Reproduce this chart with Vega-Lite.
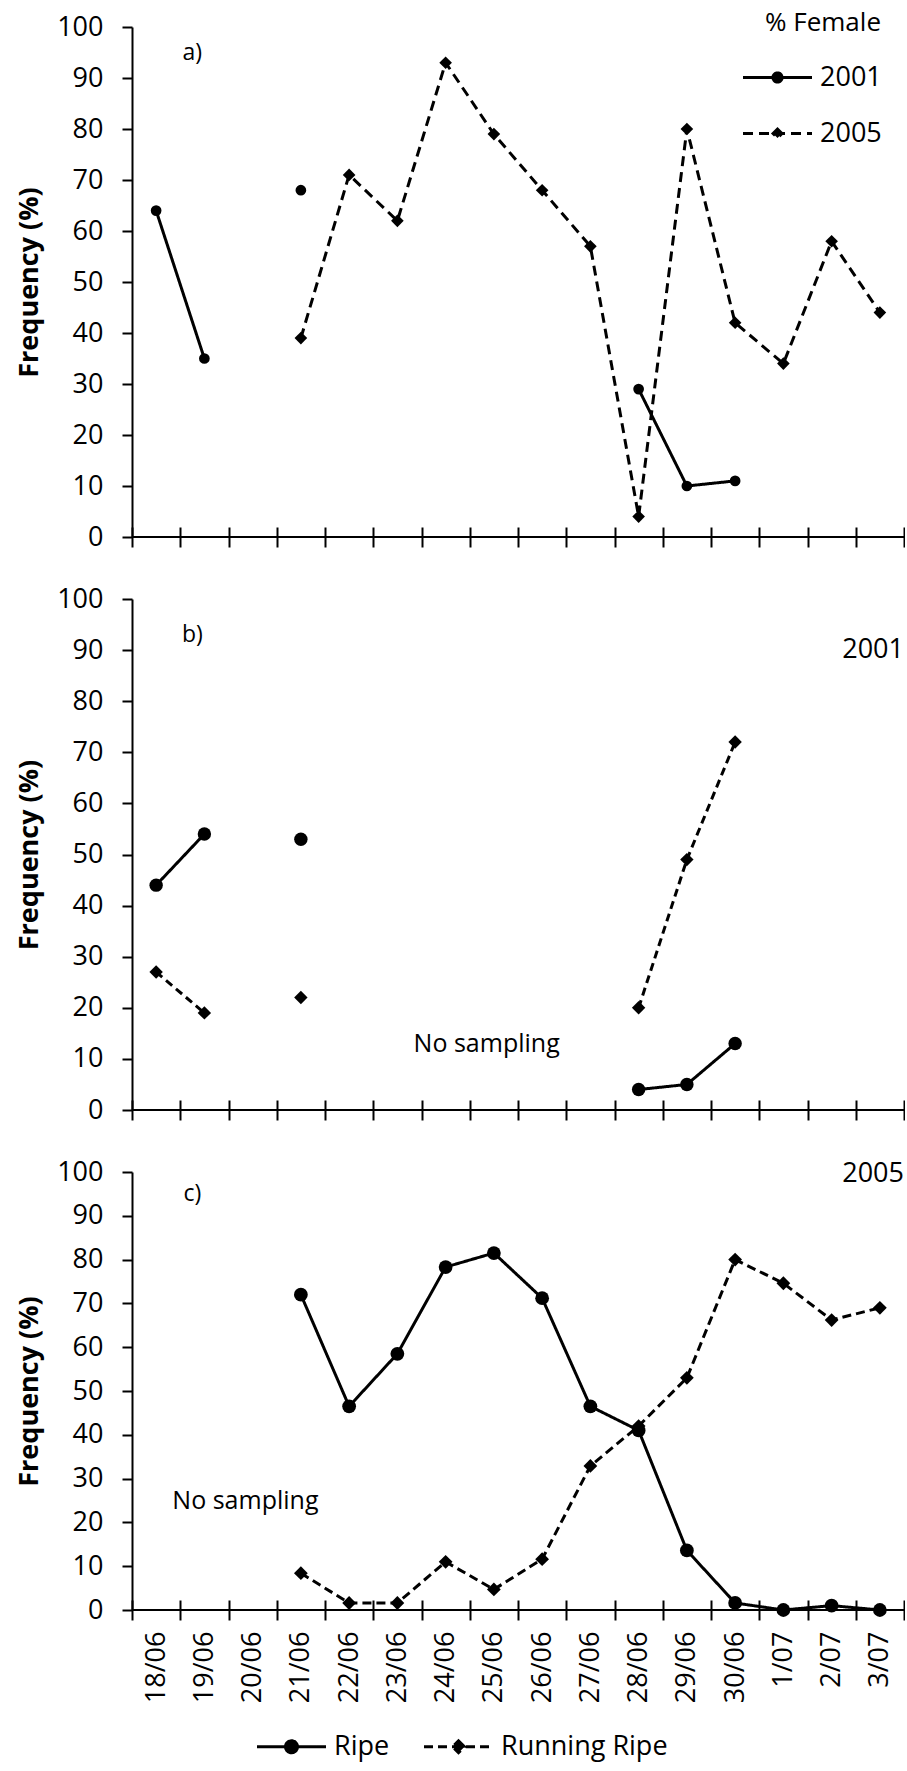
{
  "$schema": "https://vega.github.io/schema/vega-lite/v6.json",
  "padding": {"left": 15, "top": 10, "right": 0, "bottom": 8},
  "background": "white",
  "config": {
    "view": {"stroke": null},
    "font": "Open Sans",
    "axis": {
      "labelFont": "Open Sans", "labelFontSize": 27, "labelColor": "black",
      "domainColor": "black", "domainWidth": 2, "tickColor": "black", "tickWidth": 2,
      "grid": false, "titleColor": "black", "titleFont": "Open Sans"
    },
    "legend": {
      "labelFont": "Open Sans", "labelFontSize": 27, "labelColor": "black", "labelLimit": 0,
      "titleFont": "Open Sans", "titleFontSize": 26, "titleFontWeight": "normal", "titleColor": "black",
      "padding": 0
    }
  },
  "datasets": {
    "pts": [
      {"panel": "a", "series": "2001", "date": "18/06", "value": 64},
      {"panel": "a", "series": "2001", "date": "19/06", "value": 35},
      {"panel": "a", "series": "2001", "date": "20/06", "value": null},
      {"panel": "a", "series": "2001", "date": "21/06", "value": 68},
      {"panel": "a", "series": "2001", "date": "22/06", "value": null},
      {"panel": "a", "series": "2001", "date": "28/06", "value": 29},
      {"panel": "a", "series": "2001", "date": "29/06", "value": 10},
      {"panel": "a", "series": "2001", "date": "30/06", "value": 11},
      {"panel": "a", "series": "2005", "date": "21/06", "value": 39},
      {"panel": "a", "series": "2005", "date": "22/06", "value": 71},
      {"panel": "a", "series": "2005", "date": "23/06", "value": 62},
      {"panel": "a", "series": "2005", "date": "24/06", "value": 93},
      {"panel": "a", "series": "2005", "date": "25/06", "value": 79},
      {"panel": "a", "series": "2005", "date": "26/06", "value": 68},
      {"panel": "a", "series": "2005", "date": "27/06", "value": 57},
      {"panel": "a", "series": "2005", "date": "28/06", "value": 4},
      {"panel": "a", "series": "2005", "date": "29/06", "value": 80},
      {"panel": "a", "series": "2005", "date": "30/06", "value": 42},
      {"panel": "a", "series": "2005", "date": "1/07", "value": 34},
      {"panel": "a", "series": "2005", "date": "2/07", "value": 58},
      {"panel": "a", "series": "2005", "date": "3/07", "value": 44},
      {"panel": "b", "series": "Ripe", "date": "18/06", "value": 44},
      {"panel": "b", "series": "Ripe", "date": "19/06", "value": 54},
      {"panel": "b", "series": "Ripe", "date": "20/06", "value": null},
      {"panel": "b", "series": "Ripe", "date": "21/06", "value": 53},
      {"panel": "b", "series": "Ripe", "date": "22/06", "value": null},
      {"panel": "b", "series": "Ripe", "date": "28/06", "value": 4},
      {"panel": "b", "series": "Ripe", "date": "29/06", "value": 5},
      {"panel": "b", "series": "Ripe", "date": "30/06", "value": 13},
      {"panel": "b", "series": "Running Ripe", "date": "18/06", "value": 27},
      {"panel": "b", "series": "Running Ripe", "date": "19/06", "value": 19},
      {"panel": "b", "series": "Running Ripe", "date": "20/06", "value": null},
      {"panel": "b", "series": "Running Ripe", "date": "21/06", "value": 22},
      {"panel": "b", "series": "Running Ripe", "date": "22/06", "value": null},
      {"panel": "b", "series": "Running Ripe", "date": "28/06", "value": 20},
      {"panel": "b", "series": "Running Ripe", "date": "29/06", "value": 49},
      {"panel": "b", "series": "Running Ripe", "date": "30/06", "value": 72},
      {"panel": "c", "series": "Ripe", "date": "21/06", "value": 72},
      {"panel": "c", "series": "Ripe", "date": "22/06", "value": 46.5},
      {"panel": "c", "series": "Ripe", "date": "23/06", "value": 58.5},
      {"panel": "c", "series": "Ripe", "date": "24/06", "value": 78.3},
      {"panel": "c", "series": "Ripe", "date": "25/06", "value": 81.5},
      {"panel": "c", "series": "Ripe", "date": "26/06", "value": 71.2},
      {"panel": "c", "series": "Ripe", "date": "27/06", "value": 46.5},
      {"panel": "c", "series": "Ripe", "date": "28/06", "value": 41},
      {"panel": "c", "series": "Ripe", "date": "29/06", "value": 13.6},
      {"panel": "c", "series": "Ripe", "date": "30/06", "value": 1.6},
      {"panel": "c", "series": "Ripe", "date": "1/07", "value": 0},
      {"panel": "c", "series": "Ripe", "date": "2/07", "value": 1},
      {"panel": "c", "series": "Ripe", "date": "3/07", "value": 0},
      {"panel": "c", "series": "Running Ripe", "date": "21/06", "value": 8.4},
      {"panel": "c", "series": "Running Ripe", "date": "22/06", "value": 1.6},
      {"panel": "c", "series": "Running Ripe", "date": "23/06", "value": 1.6},
      {"panel": "c", "series": "Running Ripe", "date": "24/06", "value": 11},
      {"panel": "c", "series": "Running Ripe", "date": "25/06", "value": 4.7},
      {"panel": "c", "series": "Running Ripe", "date": "26/06", "value": 11.6},
      {"panel": "c", "series": "Running Ripe", "date": "27/06", "value": 32.9},
      {"panel": "c", "series": "Running Ripe", "date": "28/06", "value": 42},
      {"panel": "c", "series": "Running Ripe", "date": "29/06", "value": 53},
      {"panel": "c", "series": "Running Ripe", "date": "30/06", "value": 80},
      {"panel": "c", "series": "Running Ripe", "date": "1/07", "value": 74.6},
      {"panel": "c", "series": "Running Ripe", "date": "2/07", "value": 66.2},
      {"panel": "c", "series": "Running Ripe", "date": "3/07", "value": 69}
    ],
    "notes": [
      {"panel": "a", "kind": "tag", "date": "19/06", "value": 95, "text": "a)"},
      {"panel": "b", "kind": "tag", "date": "19/06", "value": 93, "text": "b)"},
      {"panel": "b", "kind": "year", "date": "3/07", "value": 90, "text": "2001"},
      {"panel": "b", "kind": "gap", "date": "25/06", "value": 13, "text": "No sampling"},
      {"panel": "c", "kind": "tag", "date": "19/06", "value": 95, "text": "c)"},
      {"panel": "c", "kind": "year", "date": "3/07", "value": 99.5, "text": "2005"},
      {"panel": "c", "kind": "gap", "date": "20/06", "value": 25, "text": "No sampling"}
    ]
  },
  "spacing": 62,
  "bounds": "flush",
  "resolve": {
    "scale": {"x": "independent", "y": "independent", "strokeDash": "independent"},
    "legend": {"strokeDash": "independent"}
  },
  "vconcat": [
    {
      "width": 772, "height": 510,
      "layer": [
        {
          "data": {"name": "pts"},
          "transform": [{"filter": "datum.panel === 'a'"}],
          "mark": {"type": "line", "color": "black", "strokeWidth": 3},
          "encoding": {
            "x": {"field": "date", "type": "ordinal",
              "sort": ["18/06","19/06","20/06","21/06","22/06","23/06","24/06","25/06","26/06","27/06","28/06","29/06","30/06","1/07","2/07","3/07"],
              "scale": {"type": "band", "paddingInner": 0, "paddingOuter": 0, "domain": ["18/06","19/06","20/06","21/06","22/06","23/06","24/06","25/06","26/06","27/06","28/06","29/06","30/06","1/07","2/07","3/07"]},
              "bandPosition": 0.5,
              "axis": {"title": null, "labels": false, "domain": false, "ticks": true, "tickBand": "extent", "tickSize": 20, "offset": -10}},
            "y": {"field": "value", "type": "quantitative", "scale": {"domain": [0, 100], "nice": false},
              "axis": {"title": "Frequency (%)", "values": [0,10,20,30,40,50,60,70,80,90,100], "tickSize": 10, "labelPadding": 19, "titleFontSize": 27, "titleFontWeight": "bold", "titlePadding": 13}},
            "strokeDash": {"field": "series", "type": "nominal",
              "scale": {"domain": ["2001", "2005"], "range": [[1, 0], [10, 6]]},
              "legend": {
                "orient": "none", "legendX": 632, "legendY": -17, "title": "% Female", "titleAnchor": "middle", "titlePadding": 28,
                "labelOffset": 29, "symbolSize": 576, "symbolStrokeWidth": 3, "rowPadding": 28,
                "symbolFillColor": "black", "symbolStrokeColor": "black", "symbolOpacity": 1,
                "symbolType": {"expr": "datum.value === '2001' ? 'M-2.875,0H2.875M0.38,0A0.38,0.38,0,1,1,-0.38,0A0.38,0.38,0,1,1,0.38,0Z' : 'M-2.875,0H2.875M0,-0.37L0.37,0L0,0.37L-0.37,0Z'"}
              }}
          }
        },
        {
          "data": {"name": "pts"},
          "transform": [{"filter": "datum.panel === 'a' && datum.series === '2001' && datum.value != null"}],
          "mark": {"type": "point", "filled": true, "color": "black", "opacity": 1, "shape": "circle", "size": 115},
          "encoding": {
            "x": {"field": "date", "type": "ordinal", "bandPosition": 0.5},
            "y": {"field": "value", "type": "quantitative"}
          }
        },
        {
          "data": {"name": "pts"},
          "transform": [{"filter": "datum.panel === 'a' && datum.series === '2005' && datum.value != null"}],
          "mark": {"type": "point", "filled": true, "color": "black", "opacity": 1, "shape": "diamond", "size": 160},
          "encoding": {
            "x": {"field": "date", "type": "ordinal", "bandPosition": 0.5},
            "y": {"field": "value", "type": "quantitative"}
          }
        },
        {
          "data": {"values": [{}]},
          "mark": {"type": "rule", "color": "black", "strokeWidth": 2},
          "encoding": {"y": {"datum": 0, "type": "quantitative"}}
        },
        {
          "data": {"name": "notes"},
          "transform": [{"filter": "datum.panel === 'a' && datum.kind === 'tag'"}],
          "mark": {"type": "text", "fontSize": 23, "color": "black", "align": "center", "baseline": "middle"},
          "encoding": {
            "x": {"field": "date", "type": "ordinal", "bandPosition": 0.25},
            "y": {"field": "value", "type": "quantitative"},
            "text": {"field": "text"}
          }
        }
      ]
    },
    {
      "width": 772, "height": 511,
      "layer": [
        {
          "data": {"name": "pts"},
          "transform": [{"filter": "datum.panel === 'b'"}],
          "mark": {"type": "line", "color": "black", "strokeWidth": 3},
          "encoding": {
            "x": {"field": "date", "type": "ordinal",
              "sort": ["18/06","19/06","20/06","21/06","22/06","23/06","24/06","25/06","26/06","27/06","28/06","29/06","30/06","1/07","2/07","3/07"],
              "scale": {"type": "band", "paddingInner": 0, "paddingOuter": 0, "domain": ["18/06","19/06","20/06","21/06","22/06","23/06","24/06","25/06","26/06","27/06","28/06","29/06","30/06","1/07","2/07","3/07"]},
              "bandPosition": 0.5,
              "axis": {"title": null, "labels": false, "domain": false, "ticks": true, "tickBand": "extent", "tickSize": 20, "offset": -10}},
            "y": {"field": "value", "type": "quantitative", "scale": {"domain": [0, 100], "nice": false},
              "axis": {"title": "Frequency (%)", "values": [0,10,20,30,40,50,60,70,80,90,100], "tickSize": 10, "labelPadding": 19, "titleFontSize": 27, "titleFontWeight": "bold", "titlePadding": 13}},
            "strokeDash": {"field": "series", "type": "nominal",
              "scale": {"domain": ["Ripe", "Running Ripe"], "range": [[1, 0], [8, 5]]}, "legend": null}
          }
        },
        {
          "data": {"name": "pts"},
          "transform": [{"filter": "datum.panel === 'b' && datum.series === 'Ripe' && datum.value != null"}],
          "mark": {"type": "point", "filled": true, "color": "black", "opacity": 1, "shape": "circle", "size": 180},
          "encoding": {
            "x": {"field": "date", "type": "ordinal", "bandPosition": 0.5},
            "y": {"field": "value", "type": "quantitative"}
          }
        },
        {
          "data": {"name": "pts"},
          "transform": [{"filter": "datum.panel === 'b' && datum.series === 'Running Ripe' && datum.value != null"}],
          "mark": {"type": "point", "filled": true, "color": "black", "opacity": 1, "shape": "diamond", "size": 180},
          "encoding": {
            "x": {"field": "date", "type": "ordinal", "bandPosition": 0.5},
            "y": {"field": "value", "type": "quantitative"}
          }
        },
        {
          "data": {"values": [{}]},
          "mark": {"type": "rule", "color": "black", "strokeWidth": 2},
          "encoding": {"y": {"datum": 0, "type": "quantitative"}}
        },
        {
          "data": {"name": "notes"},
          "transform": [{"filter": "datum.panel === 'b' && datum.kind === 'tag'"}],
          "mark": {"type": "text", "fontSize": 23, "color": "black", "align": "center", "baseline": "middle"},
          "encoding": {
            "x": {"field": "date", "type": "ordinal", "bandPosition": 0.25},
            "y": {"field": "value", "type": "quantitative"},
            "text": {"field": "text"}
          }
        },
        {
          "data": {"name": "notes"},
          "transform": [{"filter": "datum.panel === 'b' && datum.kind === 'year'"}],
          "mark": {"type": "text", "fontSize": 27, "color": "black", "align": "right", "baseline": "middle"},
          "encoding": {
            "x": {"field": "date", "type": "ordinal", "bandPosition": 1},
            "y": {"field": "value", "type": "quantitative"},
            "text": {"field": "text"}
          }
        },
        {
          "data": {"name": "notes"},
          "transform": [{"filter": "datum.panel === 'b' && datum.kind === 'gap'"}],
          "mark": {"type": "text", "fontSize": 25, "color": "black", "align": "center", "baseline": "middle"},
          "encoding": {
            "x": {"field": "date", "type": "ordinal", "bandPosition": 0.35},
            "y": {"field": "value", "type": "quantitative"},
            "text": {"field": "text"}
          }
        }
      ]
    },
    {
      "width": 772, "height": 438,
      "layer": [
        {
          "data": {"name": "pts"},
          "transform": [{"filter": "datum.panel === 'c'"}],
          "mark": {"type": "line", "color": "black", "strokeWidth": 3},
          "encoding": {
            "x": {"field": "date", "type": "ordinal",
              "sort": ["18/06","19/06","20/06","21/06","22/06","23/06","24/06","25/06","26/06","27/06","28/06","29/06","30/06","1/07","2/07","3/07"],
              "scale": {"type": "band", "paddingInner": 0, "paddingOuter": 0, "domain": ["18/06","19/06","20/06","21/06","22/06","23/06","24/06","25/06","26/06","27/06","28/06","29/06","30/06","1/07","2/07","3/07"]},
              "bandPosition": 0.5,
              "axis": {"title": null, "labels": true, "labelAngle": -90, "labelPadding": 11, "labelOverlap": false, "labelBound": false, "labelFlush": false, "domain": false, "ticks": true, "tickBand": "extent", "tickSize": 20, "offset": -10}},
            "y": {"field": "value", "type": "quantitative", "scale": {"domain": [0, 100], "nice": false},
              "axis": {"title": "Frequency (%)", "values": [0,10,20,30,40,50,60,70,80,90,100], "tickSize": 10, "labelPadding": 19, "titleFontSize": 27, "titleFontWeight": "bold", "titlePadding": 13}},
            "strokeDash": {"field": "series", "type": "nominal",
              "scale": {"domain": ["Ripe", "Running Ripe"], "range": [[1, 0], [9, 5]]},
              "legend": {
                "orient": "none", "direction": "horizontal", "legendX": 146, "legendY": 561, "title": null,
                "labelOffset": 29, "symbolSize": 576, "symbolStrokeWidth": 3, "columnPadding": 28,
                "symbolFillColor": "black", "symbolStrokeColor": "black", "symbolOpacity": 1,
                "symbolType": {"expr": "datum.value === 'Ripe' ? 'M-2.875,0H2.875M0.5,0A0.5,0.5,0,1,1,-0.5,0A0.5,0.5,0,1,1,0.5,0Z' : 'M-2.875,0H2.875M0,-0.5L0.5,0L0,0.5L-0.5,0Z'"}
              }}
          }
        },
        {
          "data": {"name": "pts"},
          "transform": [{"filter": "datum.panel === 'c' && datum.series === 'Ripe' && datum.value != null"}],
          "mark": {"type": "point", "filled": true, "color": "black", "opacity": 1, "shape": "circle", "size": 190},
          "encoding": {
            "x": {"field": "date", "type": "ordinal", "bandPosition": 0.5},
            "y": {"field": "value", "type": "quantitative"}
          }
        },
        {
          "data": {"name": "pts"},
          "transform": [{"filter": "datum.panel === 'c' && datum.series === 'Running Ripe' && datum.value != null"}],
          "mark": {"type": "point", "filled": true, "color": "black", "opacity": 1, "shape": "diamond", "size": 190},
          "encoding": {
            "x": {"field": "date", "type": "ordinal", "bandPosition": 0.5},
            "y": {"field": "value", "type": "quantitative"}
          }
        },
        {
          "data": {"values": [{}]},
          "mark": {"type": "rule", "color": "black", "strokeWidth": 2},
          "encoding": {"y": {"datum": 0, "type": "quantitative"}}
        },
        {
          "data": {"name": "notes"},
          "transform": [{"filter": "datum.panel === 'c' && datum.kind === 'tag'"}],
          "mark": {"type": "text", "fontSize": 23, "color": "black", "align": "center", "baseline": "middle"},
          "encoding": {
            "x": {"field": "date", "type": "ordinal", "bandPosition": 0.25},
            "y": {"field": "value", "type": "quantitative"},
            "text": {"field": "text"}
          }
        },
        {
          "data": {"name": "notes"},
          "transform": [{"filter": "datum.panel === 'c' && datum.kind === 'year'"}],
          "mark": {"type": "text", "fontSize": 27, "color": "black", "align": "right", "baseline": "middle"},
          "encoding": {
            "x": {"field": "date", "type": "ordinal", "bandPosition": 1},
            "y": {"field": "value", "type": "quantitative"},
            "text": {"field": "text"}
          }
        },
        {
          "data": {"name": "notes"},
          "transform": [{"filter": "datum.panel === 'c' && datum.kind === 'gap'"}],
          "mark": {"type": "text", "fontSize": 25, "color": "black", "align": "center", "baseline": "middle"},
          "encoding": {
            "x": {"field": "date", "type": "ordinal", "bandPosition": 0.35},
            "y": {"field": "value", "type": "quantitative"},
            "text": {"field": "text"}
          }
        }
      ]
    }
  ]
}
